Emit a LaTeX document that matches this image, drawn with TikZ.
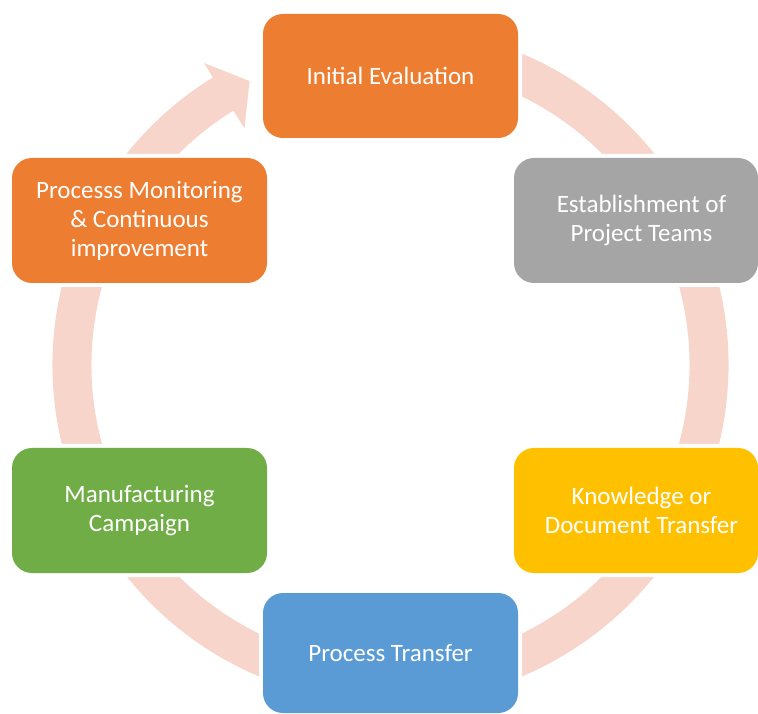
\documentclass[tikz,border=0pt]{standalone}
\usepackage{fontspec}
\setmainfont{Carlito}
\usetikzlibrary{calc}
\definecolor{ringc}{RGB}{247,213,203}
\definecolor{corange}{RGB}{237,125,49}
\definecolor{cgray}{RGB}{165,165,165}
\definecolor{cyellow}{RGB}{255,192,0}
\definecolor{cblue}{RGB}{91,155,213}
\definecolor{cgreen}{RGB}{112,173,71}
\begin{document}
\begin{tikzpicture}[x=1pt,y=1pt,
  stepbox/.style={rounded corners=20pt, inner sep=0pt, preaction={draw=white,line width=8pt},
    minimum height=124pt, minimum width=255pt},
  lbl/.style={text=white, align=center, inner sep=0pt, font=\fontsize{25}{29}\selectfont}]
\useasboundingbox (0,0) rectangle (758,713);
\coordinate (C) at (390.5,348);
% ring with arrow
\draw[ringc, line width=39pt] ($(C)+(121:318.5)$) arc[start angle=121, end angle=450, radius=318.5];
\fill[ringc] ($(C)+(121.7:278)$) -- ($(C)+(121.7:355)$) -- ($(C)+(116.4:317)$) -- cycle;
% boxes
\node[stepbox, fill=corange] (b1) at (390.5,637) {};
\node[lbl] (t1) at (b1.center) {Initial Evaluation};
\node[stepbox, fill=cgray, minimum width=244pt, minimum height=125pt] (b2) at (636,492.5) {};
\node[lbl] (t2) at (641.5,492.5) {Establishment of\\Project Teams};
\node[stepbox, fill=cyellow, minimum width=244pt, minimum height=125pt] (b3) at (636,202.5) {};
\node[lbl] (t3) at (641.5,202.5) {Knowledge or\\Document Transfer};
\node[stepbox, fill=cblue, minimum height=120pt] (b4) at (390.5,60) {};
\node[lbl] (t4) at (b4.center) {Process Transfer};
\node[stepbox, fill=cgreen, minimum height=125pt] (b5) at (139.5,202.5) {};
\node[lbl] (t5) at (b5.center) {Manufacturing\\Campaign};
\node[stepbox, fill=corange, minimum height=125pt] (b6) at (139.5,492.5) {};
\node[lbl] (t6) at (b6.center) {Processs Monitoring\\\& Continuous\\improvement};
\end{tikzpicture}
\end{document}
